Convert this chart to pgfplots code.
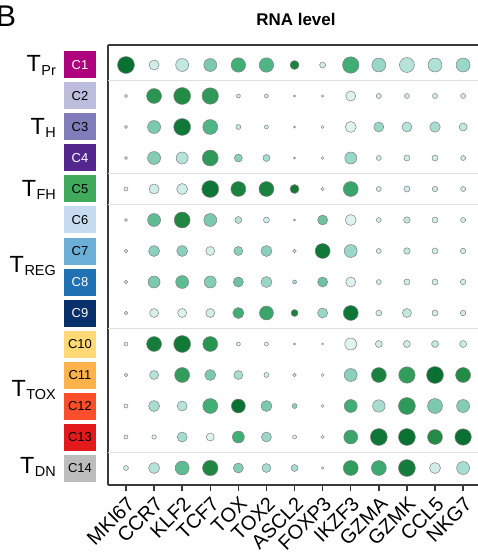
\documentclass[border=0pt]{standalone}
\usepackage{pgfplots}
\pgfplotsset{compat=1.18}
\usepackage{fontspec}
\setmainfont{Liberation Sans}
\definecolor{k1}{HTML}{AE017E}
\definecolor{k2}{HTML}{BCBDDC}
\definecolor{k3}{HTML}{807DBA}
\definecolor{k4}{HTML}{54278F}
\definecolor{k5}{HTML}{41AB5D}
\definecolor{k6}{HTML}{C6DBEF}
\definecolor{k7}{HTML}{6BAED6}
\definecolor{k8}{HTML}{2171B5}
\definecolor{k9}{HTML}{08306B}
\definecolor{k10}{HTML}{FED976}
\definecolor{k11}{HTML}{FEB24C}
\definecolor{k12}{HTML}{FC4E2A}
\definecolor{k13}{HTML}{E31A1C}
\definecolor{k14}{HTML}{BDBDBD}
\definecolor{axc}{HTML}{3A3A3A}
\pgfplotsset{colormap={bugnx}{rgb255(0cm)=(236,248,248); rgb255(3cm)=(153,216,201); rgb255(6cm)=(65,174,118); rgb255(8cm)=(35,139,69); rgb255(10cm)=(0,104,44)}}
\newcommand{\Tl}[1]{T\kern0.5pt\raisebox{-0.14em}{\fontsize{14.5}{14.5}\selectfont #1}}
\begin{document}
\begin{tikzpicture}
\path[use as bounding box] (0,0) rectangle (478bp,553bp);
\node[anchor=base west, inner sep=0, font=\fontsize{30}{30}\selectfont] at (-4bp,526bp) {B};
\begin{axis}[
  at={(108bp,68bp)}, anchor=south west, scale only axis,
  width=370bp, height=440bp,
  xmin=-0.64, xmax=12.53, ymin=0.452, ymax=14.645,
  clip=false,
  axis x line*=bottom, axis y line*=left,
  axis line style={-, draw=axc, line width=1.3bp},
  xtick={0,...,12}, ytick=\empty,
  xticklabels={MKI67, CCR7, KLF2, TCF7, TOX, TOX2, ASCL2, FOXP3, IKZF3, GZMA, GZMK, CCL5, NKG7},
  xticklabel style={rotate=45, anchor=north east, font=\fontsize{20}{20}\selectfont, inner sep=0pt, xshift=-3bp, yshift=-3bp},
  tick align=outside, major tick length=6bp,
  tick style={draw=axc, line width=1.5bp},
  colormap name=bugnx, point meta min=0, point meta max=1,
]
\draw[draw=axc, line width=1.3bp] (rel axis cs:0,1) -- (rel axis cs:1,1);
\draw[black!12, line width=1.5bp] (axis cs:-0.64,13.5) -- (axis cs:12.53,13.5);
\draw[black!12, line width=1.5bp] (axis cs:-0.64,10.5) -- (axis cs:12.53,10.5);
\draw[black!12, line width=1.5bp] (axis cs:-0.64,9.5) -- (axis cs:12.53,9.5);
\draw[black!12, line width=1.5bp] (axis cs:-0.64,5.5) -- (axis cs:12.53,5.5);
\draw[black!12, line width=1.5bp] (axis cs:-0.64,1.5) -- (axis cs:12.53,1.5);
\node[anchor=base, xshift=3bp, yshift=19bp, font=\bfseries\fontsize{17}{17}\selectfont] at (axis description cs:0.5,1) {RNA level};
% cluster boxes
\node[fill=k1, text=white, minimum width=32bp, minimum height=27bp, inner sep=0, font=\fontsize{13}{13}\selectfont] at (axis cs:-1.638,14) {C1};
\node[fill=k2, text=black, minimum width=32bp, minimum height=27bp, inner sep=0, font=\fontsize{13}{13}\selectfont] at (axis cs:-1.638,13) {C2};
\node[fill=k3, text=black, minimum width=32bp, minimum height=27bp, inner sep=0, font=\fontsize{13}{13}\selectfont] at (axis cs:-1.638,12) {C3};
\node[fill=k4, text=white, minimum width=32bp, minimum height=27bp, inner sep=0, font=\fontsize{13}{13}\selectfont] at (axis cs:-1.638,11) {C4};
\node[fill=k5, text=black, minimum width=32bp, minimum height=27bp, inner sep=0, font=\fontsize{13}{13}\selectfont] at (axis cs:-1.638,10) {C5};
\node[fill=k6, text=black, minimum width=32bp, minimum height=27bp, inner sep=0, font=\fontsize{13}{13}\selectfont] at (axis cs:-1.638,9) {C6};
\node[fill=k7, text=black, minimum width=32bp, minimum height=27bp, inner sep=0, font=\fontsize{13}{13}\selectfont] at (axis cs:-1.638,8) {C7};
\node[fill=k8, text=white, minimum width=32bp, minimum height=27bp, inner sep=0, font=\fontsize{13}{13}\selectfont] at (axis cs:-1.638,7) {C8};
\node[fill=k9, text=white, minimum width=32bp, minimum height=27bp, inner sep=0, font=\fontsize{13}{13}\selectfont] at (axis cs:-1.638,6) {C9};
\node[fill=k10, text=black, minimum width=32bp, minimum height=27bp, inner sep=0, font=\fontsize{13}{13}\selectfont] at (axis cs:-1.638,5) {C10};
\node[fill=k11, text=black, minimum width=32bp, minimum height=27bp, inner sep=0, font=\fontsize{13}{13}\selectfont] at (axis cs:-1.638,4) {C11};
\node[fill=k12, text=black, minimum width=32bp, minimum height=27bp, inner sep=0, font=\fontsize{13}{13}\selectfont] at (axis cs:-1.638,3) {C12};
\node[fill=k13, text=black, minimum width=32bp, minimum height=27bp, inner sep=0, font=\fontsize{13}{13}\selectfont] at (axis cs:-1.638,2) {C13};
\node[fill=k14, text=black, minimum width=32bp, minimum height=27bp, inner sep=0, font=\fontsize{13}{13}\selectfont] at (axis cs:-1.638,1) {C14};
% group labels
\node[anchor=base east, inner sep=0, font=\fontsize{23.5}{23.5}\selectfont] at (axis cs:-2.49,13.774) {\Tl{Pr}};
\node[anchor=base east, inner sep=0, font=\fontsize{23.5}{23.5}\selectfont] at (axis cs:-2.49,11.774) {\Tl{H}};
\node[anchor=base east, inner sep=0, font=\fontsize{23.5}{23.5}\selectfont] at (axis cs:-2.49,9.774) {\Tl{FH}};
\node[anchor=base east, inner sep=0, font=\fontsize{23.5}{23.5}\selectfont] at (axis cs:-2.49,7.3) {\Tl{REG}};
\node[anchor=base east, inner sep=0, font=\fontsize{23.5}{23.5}\selectfont] at (axis cs:-2.49,3.3) {\Tl{TOX}};
\node[anchor=base east, inner sep=0, font=\fontsize{23.5}{23.5}\selectfont] at (axis cs:-2.49,0.83) {\Tl{DN}};
\addplot[scatter, only marks, mark=*, point meta=explicit,
  scatter/use mapped color={draw=black!50, fill=mapped color},
  visualization depends on={\thisrow{s}/2 \as \ms},
  scatter/@pre marker code/.append style={/tikz/mark size=\ms},
  mark options={line width=0.5bp}]
  table[x=x, y=y, meta=c] {
x y s c
0 14 17 0.95
1 14 10 0.1
2 14 13 0.15
3 14 13 0.4
4 14 14.5 0.6
5 14 14.5 0.55
6 14 9 0.85
7 14 6 0.1
8 14 16.5 0.6
9 14 14 0.3
10 14 15 0.2
11 14 14 0.22
12 14 14 0.3
0 13 3 0
1 13 15 0.75
2 13 17 0.8
3 13 16.5 0.72
4 13 4 0.1
5 13 4 0.1
6 13 2 0
7 13 2.5 0
8 13 10 0.05
9 13 5 0.1
10 13 5 0.1
11 13 5 0.1
12 13 5 0.1
0 12 3 0
1 12 13 0.4
2 12 17 0.9
3 12 15 0.55
4 12 5 0.15
5 12 4 0.1
6 12 2 0
7 12 3 0
8 12 11 0.05
9 12 10 0.3
10 12 10 0.2
11 12 10.5 0.25
12 12 8 0.15
0 11 3 0
1 11 13 0.38
2 11 12 0.2
3 11 16 0.72
4 11 8 0.35
5 11 7 0.25
6 11 2 0
7 11 3 0
8 11 12 0.3
9 11 5 0.1
10 11 6 0.1
11 11 6 0.1
12 11 5 0.1
0 10 4 0.05
1 10 10 0.1
2 10 11 0.1
3 10 17 0.92
4 10 15 0.85
5 10 15 0.85
6 10 9 0.9
7 10 3.5 0.05
8 10 15 0.65
9 10 5 0.1
10 10 6 0.1
11 10 5.5 0.1
12 10 5 0.1
0 9 3 0
1 9 13 0.5
2 9 16 0.82
3 9 13 0.4
4 9 7 0.2
5 9 6 0.1
6 9 2 0
7 9 10 0.45
8 9 11 0.05
9 9 5 0.1
10 9 6.5 0.15
11 9 6 0.1
12 9 5 0.1
0 8 3.5 0.05
1 8 11 0.35
2 8 11 0.35
3 8 9 0.08
4 8 9 0.35
5 8 11 0.35
6 8 3.5 0.05
7 8 15 0.9
8 8 13 0.3
9 8 5 0.1
10 8 6.5 0.15
11 8 6 0.1
12 8 5.5 0.1
0 7 3.5 0.05
1 7 12 0.4
2 7 13 0.5
3 7 12 0.38
4 7 10 0.45
5 7 11 0.3
6 7 4 0.25
7 7 10 0.45
8 7 10 0.05
9 7 5 0.1
10 7 6 0.1
11 7 6 0.1
12 7 5.5 0.1
0 6 3.5 0.05
1 6 9 0.08
2 6 9 0.05
3 6 9 0.1
4 6 11 0.6
5 6 14 0.65
6 6 7 0.85
7 6 10 0.3
8 6 15 0.92
9 6 6 0.1
10 6 9 0.15
11 6 6 0.1
12 6 5.5 0.1
0 5 4 0.05
1 5 15 0.88
2 5 17 0.9
3 5 15 0.75
4 5 4 0.05
5 5 4 0.05
6 5 2 0
7 5 2 0
8 5 12 0.05
9 5 7 0.1
10 5 7 0.1
11 5 7 0.15
12 5 7 0.12
0 4 3.5 0.05
1 4 9 0.2
2 4 15 0.7
3 4 11 0.4
4 4 9 0.25
5 4 5 0.1
6 4 3.5 0.05
7 4 3 0
8 4 13 0.35
9 4 15 0.85
10 4 16.5 0.7
11 4 17 0.95
12 4 15 0.8
0 3 4 0.05
1 3 11 0.25
2 3 10 0.2
3 3 15 0.6
4 3 14 0.95
5 3 11 0.4
6 3 5 0.35
7 3 3 0
8 3 13 0.6
9 3 12.5 0.25
10 3 17 0.72
11 3 15 0.4
12 3 13 0.38
0 2 4 0.05
1 2 4.5 0.05
2 2 10 0.25
3 2 8 0.05
4 2 12 0.6
5 2 10 0.3
6 2 4 0.05
7 2 3.5 0.05
8 2 14 0.65
9 2 17 0.92
10 2 17 0.95
11 2 15 0.8
12 2 16.5 0.95
0 1 5 0.1
1 1 11 0.2
2 1 14 0.5
3 1 15.5 0.82
4 1 10 0.38
5 1 9 0.25
6 1 7 0.25
7 1 2.5 0
8 1 15 0.7
9 1 15 0.62
10 1 17 0.88
11 1 11 0.1
12 1 13 0.25
};
\end{axis}
\end{tikzpicture}
\end{document}
